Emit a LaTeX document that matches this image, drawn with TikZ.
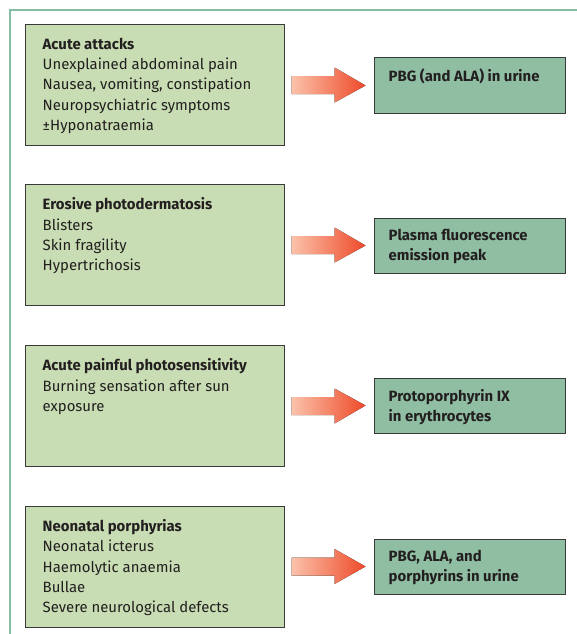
\documentclass[tikz,border=0pt]{standalone}
\usepackage{fontspec}
\setmainfont{Fira Sans}
\usetikzlibrary{calc}
\definecolor{framecol}{HTML}{86BCA4}
\definecolor{leftfill}{HTML}{C8DDB3}
\definecolor{rightfill}{HTML}{8FBEA2}
\definecolor{boxline}{HTML}{3A3A3A}
\definecolor{txt}{HTML}{231F20}
\definecolor{arrowlight}{HTML}{FBC2AA}
\definecolor{arrowdark}{HTML}{EE4A2A}
\newcommand\myarrow[2]{%
  \coordinate (#1s) at ($(#1.east)+(7,0)$);
  \coordinate (#2t) at ($(#2.west)+(-8,0)$);
  \fill[left color=arrowlight, right color=arrowdark]
    ($(#1s)+(0,-9)$) -- ($(#1s)+(43,-9)$) -- ($(#1s)+(43,-17.5)$) -- (#2t)
    -- ($(#1s)+(43,17.5)$) -- ($(#1s)+(43,9)$) -- ($(#1s)+(0,9)$) -- cycle;}
\begin{document}
\begin{tikzpicture}[x=1pt,y=-1pt,
 leftbox/.style={draw=boxline, line width=1pt, fill=leftfill, minimum width=259pt, minimum height=121pt, inner sep=0pt},
 rightbox/.style={draw=boxline, line width=1pt, fill=rightfill, minimum width=191pt, minimum height=55pt, inner sep=0pt},
 boxtext/.style={anchor=north west, align=left, inner sep=0pt, text=txt, font=\fontsize{14.9}{20.4}\selectfont},
]
\useasboundingbox (0,0) rectangle (576,634);
\draw[framecol, line width=1.5pt] (10,640) -- (10,10) -- (580,10);

\node[leftbox] (l1) at (154.5,85) {};
\node[leftbox] (l2) at (154.5,245) {};
\node[leftbox] (l3) at (154.5,406) {};
\node[leftbox] (l4) at (154.5,566.5) {};

\node[rightbox] (r1) at (469.5,85.5) {};
\node[rightbox] (r2) at (469.5,245.5) {};
\node[rightbox] (r3) at (469.5,405.5) {};
\node[rightbox] (r4) at (469.5,566.5) {};

\node[boxtext] (t1) at ($(l1.north west)+(18,13.5)$) {\textbf{Acute attacks}\\Unexplained abdominal pain\\Nausea, vomiting, constipation\\Neuropsychiatric symptoms\\±Hyponatraemia};
\node[boxtext] (t2) at ($(l2.north west)+(18,13.5)$) {\textbf{Erosive photodermatosis}\\Blisters\\Skin fragility\\Hypertrichosis};
\node[boxtext] (t3) at ($(l3.north west)+(18,13.5)$) {\textbf{Acute painful photosensitivity}\\Burning sensation after sun\\exposure};
\node[boxtext] (t4) at ($(l4.north west)+(18,13.5)$) {\textbf{Neonatal porphyrias}\\Neonatal icterus\\Haemolytic anaemia\\Bullae\\Severe neurological defects};

\node[boxtext] (u1) at ($(r1.north west)+(15,11.5)$) {\textbf{PBG (and ALA) in urine}};
\node[boxtext] (u2) at ($(r2.north west)+(15,11.5)$) {\textbf{Plasma fluorescence}\\\textbf{emission peak}};
\node[boxtext] (u3) at ($(r3.north west)+(15,11.5)$) {\textbf{Protoporphyrin IX}\\\textbf{in erythrocytes}};
\node[boxtext] (u4) at ($(r4.north west)+(15,11.5)$) {\textbf{PBG, ALA, and}\\\textbf{porphyrins in urine}};

\myarrow{l1}{r1}
\myarrow{l2}{r2}
\myarrow{l3}{r3}
\myarrow{l4}{r4}
\end{tikzpicture}
\end{document}
